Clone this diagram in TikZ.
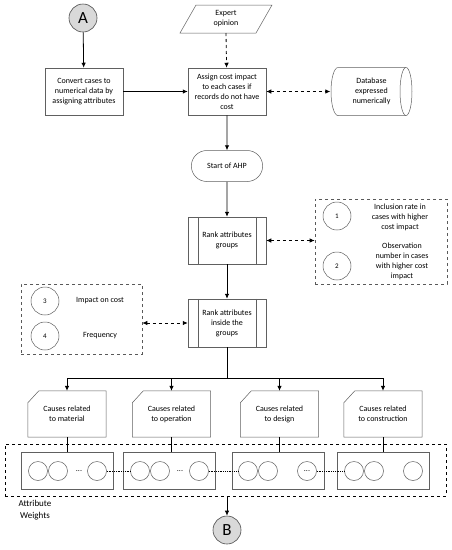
\documentclass[tikz,border=0pt]{standalone}
\usepackage{fontspec}
\setmainfont{Carlito}
\usetikzlibrary{shapes.geometric,shapes.misc,arrows.meta}

\begin{document}
\begin{tikzpicture}[x=1pt,y=-1pt,
	font=\fontsize{8}{10}\selectfont,
	line/.style={draw=gray!75!black,line width=0.5pt},
	proc/.style={line,minimum width=78pt,minimum height=47pt,align=center,inner sep=1pt},
	arr/.style={-{Latex[length=5pt,width=4.5pt]},line width=0.8pt},
	darr/.style={{Latex[length=5pt,width=4.5pt]}-{Latex[length=5pt,width=4.5pt]},dashed,line width=0.8pt},
	conn/.style={circle,draw=gray!60!black,fill=gray!30,line width=0.6pt,minimum size=28pt,font=\fontsize{17}{17}\selectfont},
	num/.style={circle,line,minimum size=28pt,inner sep=0pt,font=\fontsize{7}{8}\selectfont},
	wt/.style={circle,line,minimum size=19pt,inner sep=0pt},
	crit/.style={draw=gray!70!black,dashed,line width=0.6pt},
	]
	\useasboundingbox[fill=white] (0,0) rectangle (451,550);
	
	%TOP
	\node[conn] (A) at (83,18) {A};
	\node[proc] (convert) at (84,91.5) {Convert cases to\\numerical data by\\assigning attributes};
	\node[align=center] (expert) at (226,19) {Expert\\opinion};
	\draw[line] (180,33) -- (196,5) -- (272,5) -- (256,33) -- cycle;
	\node[proc] (assign) at (227,91.5) {Assign cost impact\\to each cases if\\records do not have\\cost};
	\node[minimum width=82pt,minimum height=48pt,align=center,inner sep=1pt] (db) at (371.5,91.5) {Database\\expressed\\numerically};
	\draw[line] (338,67.5) arc[start angle=90,end angle=270,x radius=7pt,y radius=24pt] -- (406,115.5)
		arc[start angle=-90,end angle=90,x radius=6pt,y radius=24pt] -- cycle;
	\draw[line] (406,67.5) arc[start angle=90,end angle=270,x radius=6pt,y radius=24pt];
	\node[rounded rectangle,line,minimum width=78pt,minimum height=31pt] (ahp) at (227,166) {Start of AHP};
	
	\draw[arr] (A) -- (convert);
	\draw[arr,dashed] (expert.south |- 0,33) -- (assign);
	\draw[arr] (convert) -- (assign);
	\draw[darr] (assign) -- (db);
	\draw[arr] (assign) -- (ahp);
	
	%RANKING
	\node[proc] (rankg) at (227,240.5) {Rank attributes\\groups};
	\node[proc,minimum height=48pt] (ranki) at (227,323) {Rank attributes\\inside the\\groups};
	\foreach \n in {rankg,ranki}{
		\draw[line] ([xshift=10pt]\n.north west) -- ([xshift=10pt]\n.south west);
		\draw[line] ([xshift=-10pt]\n.north east) -- ([xshift=-10pt]\n.south east);
	}
	\draw[arr] (ahp) -- (rankg);
	\draw[arr] (rankg) -- (ranki);
	
	%CRITERIA
	\node[crit,minimum width=132pt,minimum height=85pt] (critg) at (381,241.5) {};
	\node[num] (c1) at (337,216) {1};
	\node[num] (c2) at (337,266) {2};
	\node[align=center] at (400,217) {Inclusion rate in\\cases with higher\\cost impact};
	\node[align=center] at (402,261) {Observation\\number in cases\\with higher cost\\impact};
	\node[crit,minimum width=121pt,minimum height=70pt] (criti) at (81.5,319) {};
	\node[num] (c3) at (45,301) {3};
	\node[num] (c4) at (45,336) {4};
	\node at (100,301) {Impact on cost};
	\node at (100,336) {Frequency};
	\draw[darr] (rankg.east) -- (rankg.east -| critg.west);
	\draw[darr] (criti.east |- ranki.west) -- (ranki.west);
	
	%CAUSES
	\foreach \i/\x/\t in {1/67/material,2/171.5/operation,3/279.5/design,4/383/construction}{
		\node[minimum width=78pt,minimum height=46pt,align=center] (card\i) at (\x,414) {Causes related\\to \t};
		\draw[line] (card\i.south west) -- ([yshift=-12pt]card\i.north west) -- ([xshift=11pt]card\i.north west) -- (card\i.north east) -- (card\i.south east) -- cycle;
		\draw[arr] (ranki.south) -- ++(0,31) -| (card\i.north);
	}
	
	%WEIGHTS
	\node[draw,dashed,line width=0.8pt,minimum width=441pt,minimum height=52pt] (weights) at (225.5,470) {};
	\foreach \i/\x in {1/67,2/169.5,3/278,4/383.5}{
		\node[line,minimum width=92pt,minimum height=37pt] (grp\i) at (\x,470.5) {};
		\draw[line width=0.8pt] (card\i.south) -- (card\i.south |- grp\i.north);
	}
	\node[wt] (w11) at (38,471) {};
	\node[wt] (w12) at (58,471) {};
	\node at (79,471) {...};
	\node[wt] (w13) at (97,471) {};
	\node[wt] (w21) at (140,471) {};
	\node[wt] (w22) at (160,471) {};
	\node at (180,471) {...};
	\node[wt] (w23) at (199,471) {};
	\node[wt] (w31) at (248,471) {};
	\node[wt] (w32) at (268,471) {};
	\node[wt] (w33) at (307,471) {...};
	\node[wt] (w41) at (354,471) {};
	\node[wt] (w42) at (374,471) {};
	\node[wt] (w43) at (413,471) {};
	\draw[densely dotted,line width=0.8pt] (w13) -- (w21);
	\draw[densely dotted,line width=0.8pt] (w23) -- (w31);
	\draw[densely dotted,line width=0.8pt] (w33) -- (w41);
	\node[align=center,font=\fontsize{9}{12}\selectfont] (wlabel) at (35,510.5) {Attribute\\Weights};
	
	\node[conn] (B) at (227,530) {B};
	\draw[arr] (B |- weights.south) -- (B);
\end{tikzpicture}
\end{document}
